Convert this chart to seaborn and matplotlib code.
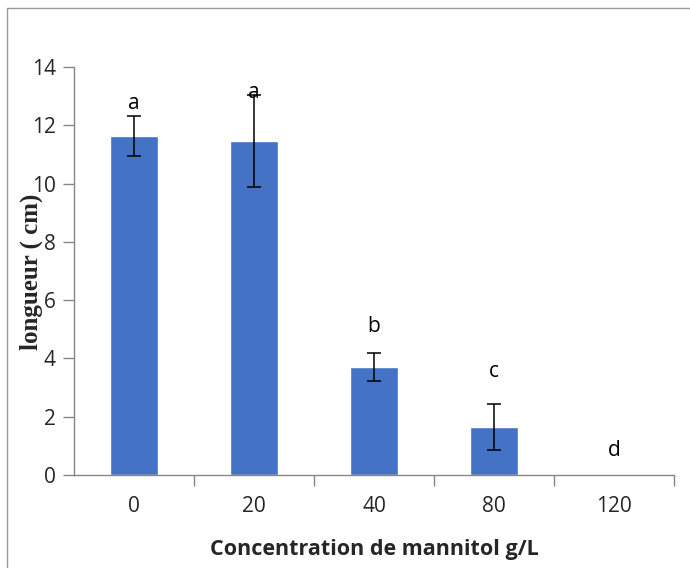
import matplotlib
matplotlib.use("Agg")
import matplotlib.pyplot as plt
from matplotlib.patches import Rectangle
from matplotlib.ticker import FixedLocator, MultipleLocator
import numpy as np
import pandas as pd
import seaborn as sns

# Root length by mannitol concentration
concentrations = ["0", "20", "40", "80", "120"]
lengths = [11.63, 11.46, 3.71, 1.65, 0.0]
errors = [0.69, 1.57, 0.47, 0.78, 0.0]
groups = ["a", "a", "b", "c", "d"]
letter_heights = [12.4, 12.76, 4.74, 3.2, 0.49]

sns.set_theme(style="white")
plt.rcParams["font.family"] = ["Open Sans", "DejaVu Sans"]

df = pd.DataFrame({"conc": concentrations, "length": lengths})

fig = plt.figure(figsize=(6.9, 5.68), dpi=100)
ax = fig.add_axes([74 / 690, 1 - 475 / 568, 600 / 690, 408 / 568])

sns.barplot(data=df, x="conc", y="length", color="#4472C4", saturation=1,
            width=0.4, errorbar=None, ax=ax, order=concentrations)

xpos = np.arange(len(concentrations))
ax.errorbar(xpos[:4], lengths[:4], yerr=errors[:4], fmt="none",
            ecolor="black", elinewidth=1.1, capsize=5, capthick=1.1)

for x, h, g in zip(xpos, letter_heights, groups):
    ax.text(x, h, g, ha="center", va="bottom", fontsize=15, color="black")

ax.set_ylim(0, 14)
ax.set_xlim(-0.5, 4.5)
ax.yaxis.set_major_locator(MultipleLocator(2))
ax.tick_params(axis="y", which="major", left=True, length=8, width=1,
               color="#868686", labelsize=15, pad=5)
ax.tick_params(axis="x", which="major", bottom=False, length=0,
               labelsize=15, pad=15)
ax.xaxis.set_minor_locator(FixedLocator(np.arange(0.5, 5, 1.0)))
ax.tick_params(axis="x", which="minor", bottom=True, length=8, width=1,
               color="#868686")

for side in ["top", "right"]:
    ax.spines[side].set_visible(False)
for side in ["left", "bottom"]:
    ax.spines[side].set_color("#868686")
    ax.spines[side].set_linewidth(1)

ax.set_xlabel("Concentration de mannitol g/L", fontsize=15.5,
              fontweight="bold", labelpad=16)
ax.set_ylabel("")
fig.text(31 / 690, 1 - 272 / 568, "longueur ( cm)", rotation=90,
         ha="center", va="center", fontsize=18, fontweight="bold",
         family=["Liberation Serif", "DejaVu Serif"])

# Outer chart frame
fig.patches.append(Rectangle((7 / 690, -0.5), 2, 0.5 + 1 - 8 / 568,
                             transform=fig.transFigure, fill=False,
                             edgecolor="#9a9a9a", linewidth=1))

fig.savefig("out.png", dpi=100)
